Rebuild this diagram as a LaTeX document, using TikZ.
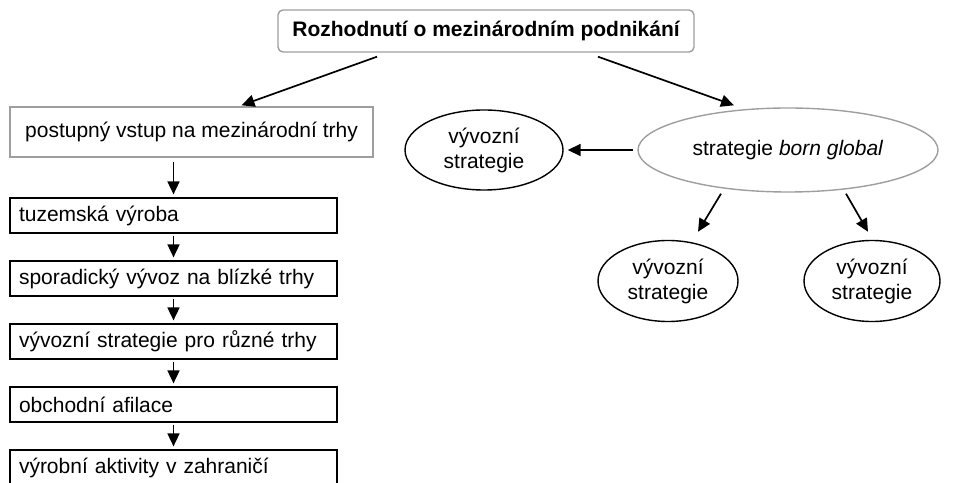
\documentclass[tikz,border=0pt]{standalone}
\usepackage{fontspec}
\setmainfont{Liberation Sans}
\usetikzlibrary{shapes.geometric,arrows.meta}
\definecolor{boxgrey}{RGB}{158,158,158}

\begin{document}
\begin{tikzpicture}[x=1pt,y=1pt,>={Stealth[length=13pt,width=12pt,inset=0pt]},node distance=63pt,line width=1.7pt,
  box/.style={rectangle,draw,line width=1.2pt,minimum width=327pt,minimum height=35pt,inner xsep=9pt,text width=309pt,align=left,font=\fontsize{21}{25}\selectfont},
  grey box/.style={rectangle,draw=boxgrey,line width=1.4pt,minimum height=50pt,align=center,font=\fontsize{21}{25}\selectfont},
  oval/.style={ellipse,draw,line width=1.4pt,inner sep=0pt,align=center,font=\fontsize{21}{25}\selectfont},
  grey oval/.style={oval,draw=boxgrey,line width=1.4pt}]

            \useasboundingbox (0,0) rectangle (960,482);

            \node[rectangle, draw=boxgrey, line width=1.4pt, rounded corners=5pt, minimum width=416pt, minimum height=42pt, font=\fontsize{21}{25}\selectfont\bfseries] (0) at (486,451) {Rozhodnutí o mezinárodním podnikání};

            \node[grey box, minimum width=363pt] (1) at (191.5,350) {postupný vstup na mezinárodní trhy};
            \node[box] (2) at (173.5,266.5) {tuzemská výroba};
            \node[box] (3) [below of = 2] {sporadický vývoz na blízké trhy};
            \node[box] (4) [below of = 3] {vývozní strategie pro různé trhy};
            \node[box] (5) [below of = 4] {obchodní afilace};
            \node[box] (6) [below of = 5] {výrobní aktivity v zahraničí};

            \node[grey oval, minimum width=300pt, minimum height=84pt] (7) at (788,332) {strategie \textit{born global}};
            \node[oval, minimum width=158pt, minimum height=80pt] (8) at (484,332) {vývozní\\strategie};
            \node[oval, minimum width=140pt, minimum height=81pt] (9) at (668,201) {vývozní\\strategie};
            \node[oval, minimum width=136pt, minimum height=81pt] (10) at (872,201) {vývozní\\strategie};

            \draw[->] ([xshift=-109pt,yshift=-4pt]0.south) to ([xshift=50pt,yshift=1pt]1.north);
            \draw[->] ([xshift=112pt,yshift=-4pt]0.south) to ([xshift=-54pt,yshift=2pt]7.north);
            \draw[->] (1.south -| 2.north) ++(0,-4) to ([yshift=3pt]2.north);
            \draw[->, shorten <=2pt, shorten >=3pt] (2) to (3);
            \draw[->, shorten <=2pt, shorten >=3pt] (3) to (4);
            \draw[->, shorten <=2pt, shorten >=3pt] (4) to (5);
            \draw[->, shorten <=2pt, shorten >=3pt] (5) to (6);
            \draw[->, shorten <=4pt, shorten >=4pt] (7) to (8);
            \draw[->] ([xshift=-67pt,yshift=-1pt]7.south) to ([xshift=30pt,yshift=8pt]9.north);
            \draw[->] ([xshift=58pt,yshift=-1pt]7.south) to ([xshift=-4pt,yshift=8pt]10.north);

            ;
        \end{tikzpicture}
\end{document}
